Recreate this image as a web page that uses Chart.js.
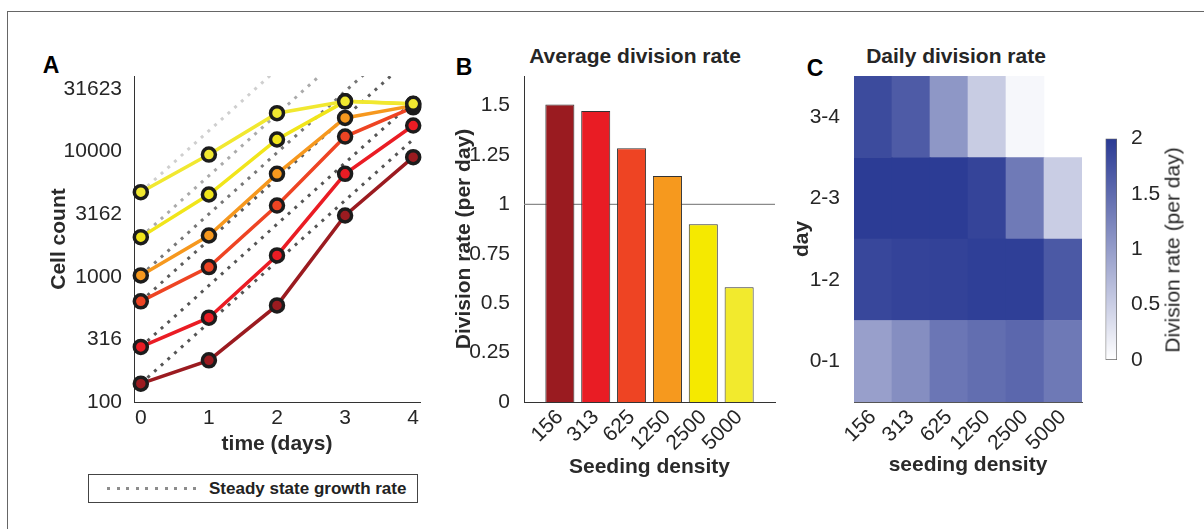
<!DOCTYPE html>
<html>
<head>
<meta charset="utf-8">
<script src="https://cdn.jsdelivr.net/npm/chart.js@4.4.0/dist/chart.umd.min.js"></script>
<style>
  body { margin: 0; background: #fff; width: 1204px; height: 529px; overflow: hidden; position: relative;
         font-family: 'Liberation Sans', Arial, sans-serif; color: #262626; }
  .frame { position: absolute; left: 7px; top: 11px; width: 1300px; height: 600px;
           border-left: 1.5px solid #666; border-top: 1.5px solid #666; }
  .panel { position: absolute; }
  .letter { position: absolute; font-weight: bold; font-size: 23px; color: #000; line-height: 1; transform: translate(-50%, -50%); }
  .title { position: absolute; font-weight: bold; font-size: 21px; white-space: nowrap; line-height: 1; transform: translate(-50%, -50%); }
  .cbar-label { position: absolute; font-size: 21px; white-space: nowrap; line-height: 1; transform: translate(-50%, -50%) rotate(-90deg); }
  .legend { position: absolute; left: 88px; top: 474px; width: 328px; height: 27px; border: 1.5px solid #444; background: #fff; }
  .legend .dots { position: absolute; left: 18px; top: 12px; width: 90px; height: 3px;
                  background: repeating-linear-gradient(to right, #8c8c8c 0 3px, transparent 3px 9.6px); }
  .legend .txt { position: absolute; left: 120px; top: 4px; font-weight: bold; font-size: 17px; white-space: nowrap; color: #222; }
</style>
</head>
<body>
<div class="frame"></div>

<div class="letter" style="left:51px; top:65px;">A</div>
<div class="letter" style="left:464px; top:67px;">B</div>
<div class="letter" style="left:815px; top:68px;">C</div>

<div class="title" style="left:635px; top:55px;">Average division rate</div>
<div class="title" style="left:956px; top:55px;">Daily division rate</div>

<div class="panel" style="left:20px; top:40px;"><canvas id="growth" width="410" height="420"></canvas></div>
<div class="panel" style="left:440px; top:40px;"><canvas id="average" width="350" height="440"></canvas></div>
<div class="panel" style="left:790px; top:40px;"><canvas id="daily" width="310" height="440"></canvas></div>
<div class="panel" style="left:1095px; top:120px;"><canvas id="cbar" width="109" height="260"></canvas></div>
<div class="cbar-label" style="left:1172px; top:250px;">Division rate (per day)</div>

<div class="legend"><div class="dots"></div><div class="txt">Steady state growth rate</div></div>

<script>
// ---- data ----
const days = [0, 1, 2, 3, 4];
const densities = ["156", "313", "625", "1250", "2500", "5000"];

// cell counts per seeding density, day 0..4
const counts156 = [140, 215, 590, 3080, 9000];
const counts313 = [275, 471, 1479, 6620, 16100];
const counts625 = [636, 1194, 3700, 13150, 22500];
const counts1250 = [1024, 2133, 6620, 18500, 23200];
const counts2500 = [2070, 4530, 12450, 25100, 23900];
const counts5000 = [4730, 9440, 20200, 25100, 24000];

// steady state lines: start at day-0 count, value reached at day 4
const steadyEnd = [12500, 25000, 58000, 93000, 189000, 431000];

const countTicks = [100, 316, 1000, 3162, 10000, 31623];

const avgRate = [1.506, 1.473, 1.284, 1.144, 0.900, 0.581];
const rateTicks = [0, 0.25, 0.5, 0.75, 1, 1.25, 1.5];

const dayRanges = ["0-1", "1-2", "2-3", "3-4"];
const rate01 = [0.97, 1.15, 1.39, 1.47, 1.54, 1.36];
const rate12 = [1.87, 1.91, 1.92, 1.95, 1.95, 1.69];
const rate23 = [1.98, 1.98, 1.98, 1.90, 1.35, 0.51];
const rate34 = [1.83, 1.66, 1.06, 0.52, 0.08, null];
const cbarTicks = [0, 0.5, 1, 1.5, 2];

// ---- styles ----
const seriesColors = ["#9b1b20", "#ea1c24", "#ee4423", "#f6981e", "#f1e51a", "#f1e830"];
const barColors = ["#9a1b20", "#e91c24", "#ee4423", "#f6991e", "#f5e900", "#f2ea2d"];
const dotColors = ["#555555", "#555555", "#5c5c5c", "#777777", "#aaaaaa", "#cfcfcf"];
const heatTop = [42, 58, 148];
const FONT = "'Liberation Sans', Arial, sans-serif";

Chart.defaults.font.family = FONT;
Chart.defaults.color = "#262626";
Chart.defaults.animation = false;
Chart.defaults.responsive = false;
Chart.defaults.plugins.legend.display = false;
Chart.defaults.plugins.tooltip.enabled = false;

const tickFont = { size: 21 };
const labelFont = { size: 21, weight: "bold" };
const axisBorder = { display: true, color: "#333", width: 1 };

function rateColor(v) {
  if (v == null) return "rgba(0,0,0,0)";
  const t = Math.max(0, Math.min(1, v / 2));
  const c = heatTop.map(x => Math.round(255 + (x - 255) * t));
  return `rgb(${c[0]},${c[1]},${c[2]})`;
}

// ---- panel A: growth curves ----
const allCounts = [counts156, counts313, counts625, counts1250, counts2500, counts5000];

const growthSets = allCounts.map((arr, i) => ({
  data: arr.map((v, j) => ({ x: days[j], y: v })),
  borderColor: seriesColors[i],
  backgroundColor: seriesColors[i],
  pointBackgroundColor: seriesColors[i],
  pointBorderColor: "#1c1c1c",
  pointRadius: 6.5,
  pointBorderWidth: 3.5,
  borderWidth: 3.5,
  clip: false,
})).reverse();

const steadySets = allCounts.map((arr, i) => ({
  data: [{ x: days[0], y: arr[0] }, { x: days[days.length - 1], y: steadyEnd[i] }],
  borderColor: dotColors[i],
  borderWidth: 3,
  borderDash: [3, 6],
  pointRadius: 0,
}));

new Chart(document.getElementById("growth"), {
  type: "line",
  data: { datasets: growthSets.concat(steadySets) },
  options: {
    layout: { padding: { top: 36, right: 9, left: 0, bottom: 0 } },
    scales: {
      x: {
        type: "linear", min: -0.1, max: 4.1,
        afterBuildTicks: ax => { ax.ticks = days.map(v => ({ value: v })); },
        afterFit: sc => { sc.height = 58; },
        ticks: { font: tickFont, padding: -4, maxRotation: 0 },
        grid: { display: false },
        border: axisBorder,
        title: { display: true, text: "time (days)", font: labelFont, color: "#2a2a2a", padding: { top: 0, bottom: 3 } },
      },
      y: {
        type: "logarithmic", min: 100, max: 40000,
        afterBuildTicks: ax => { ax.ticks = countTicks.map(v => ({ value: v })); },
        afterFit: sc => { sc.width = 114; },
        ticks: { font: tickFont, padding: 4, callback: v => String(v) },
        grid: { display: false },
        border: axisBorder,
        title: { display: true, text: "Cell count", font: labelFont, color: "#2a2a2a", padding: { top: 27, bottom: 0 } },
      },
    },
  },
});

// ---- panel B: average division rate ----
new Chart(document.getElementById("average"), {
  type: "bar",
  data: {
    datasets: [
      {
        type: "bar",
        data: avgRate.map((v, i) => ({ x: i + 1, y: v })),
        backgroundColor: barColors,
        borderColor: "#333",
        borderWidth: 1,
        barPercentage: 0.81,
        categoryPercentage: 1,
      },
      {
        type: "line",
        data: [{ x: 0, y: 1 }, { x: densities.length + 1, y: 1 }],
        borderColor: "#8a8a8a",
        borderWidth: 1.2,
        pointRadius: 0,
      },
    ],
  },
  options: {
    layout: { padding: { top: 36, right: 15, left: 0, bottom: 0 } },
    scales: {
      x: {
        type: "linear", min: 0, max: densities.length + 1, offset: false,
        afterBuildTicks: ax => { ax.ticks = densities.map((d, i) => ({ value: i + 1 })); },
        afterFit: sc => { sc.height = 78; },
        ticks: { font: tickFont, padding: -5, minRotation: 45, maxRotation: 45, callback: v => densities[v - 1] },
        grid: { display: false },
        border: axisBorder,
        title: { display: true, text: "Seeding density", font: labelFont, color: "#2a2a2a", padding: { top: 0, bottom: 0 } },
      },
      y: {
        min: 0, max: 1.65,
        afterBuildTicks: ax => { ax.ticks = rateTicks.map(v => ({ value: v })); },
        afterFit: sc => { sc.width = 84; },
        ticks: { font: tickFont, padding: 6, callback: v => String(v) },
        grid: { display: false },
        border: axisBorder,
        title: { display: true, text: "Division rate (per day)", font: labelFont, color: "#2a2a2a", padding: { top: 12, bottom: 0 } },
      },
    },
  },
});

// ---- panel C: daily division rate heatmap ----
const dailyRows = [rate01, rate12, rate23, rate34];

new Chart(document.getElementById("daily"), {
  type: "bar",
  data: {
    labels: densities,
    datasets: dailyRows.map((row, r) => ({
      label: dayRanges[r],
      data: row.map(v => (v == null ? null : [r, r + 1])),
      backgroundColor: row.map(rateColor),
      borderWidth: 0,
      grouped: false,
      barPercentage: 1,
      categoryPercentage: 1,
    })),
  },
  options: {
    layout: { padding: { top: 36, right: 18, left: 0, bottom: 0 } },
    scales: {
      x: {
        z: 1,
        afterFit: sc => { sc.height = 78; },
        ticks: { font: tickFont, padding: -5, minRotation: 45, maxRotation: 45, autoSkip: false },
        grid: { display: false },
        border: { display: true, color: "#555", width: 1 },
        title: { display: true, text: "seeding density", font: labelFont, color: "#2a2a2a", padding: { top: 0, bottom: 2 } },
      },
      y: {
        min: 0, max: dayRanges.length,
        afterBuildTicks: ax => { ax.ticks = dayRanges.map((d, i) => ({ value: i + 0.5 })); },
        afterFit: sc => { sc.width = 64; },
        ticks: { font: tickFont, padding: 6, callback: v => dayRanges[Math.floor(v)] },
        grid: { display: false },
        border: { display: false },
        title: { display: true, text: "day", font: labelFont, color: "#2a2a2a", padding: { top: 0, bottom: 0 } },
      },
    },
  },
});

// ---- colorbar ----
new Chart(document.getElementById("cbar"), {
  type: "bar",
  data: {
    labels: ["rate"],
    datasets: [{
      data: [[cbarTicks[0], cbarTicks[cbarTicks.length - 1]]],
      backgroundColor: ctx => {
        const { chart } = ctx;
        const area = chart.chartArea;
        if (!area) return "#fff";
        const g = chart.ctx.createLinearGradient(0, area.bottom, 0, area.top);
        g.addColorStop(0, rateColor(0));
        g.addColorStop(1, rateColor(2));
        return g;
      },
      borderColor: "#666",
      borderWidth: 1,
      borderSkipped: false,
      barPercentage: 1,
      categoryPercentage: 1,
    }],
  },
  options: {
    layout: { padding: { top: 17, right: 0, left: 10.5, bottom: 20 } },
    scales: {
      x: { display: false },
      y: {
        position: "right", min: 0, max: 2,
        afterBuildTicks: ax => { ax.ticks = cbarTicks.map(v => ({ value: v })); },
        afterFit: sc => { sc.width = 87; },
        ticks: { font: tickFont, padding: 6, callback: v => String(v) },
        grid: { display: false },
        border: { display: false },
      },
    },
  },
});
</script>
</body>
</html>
